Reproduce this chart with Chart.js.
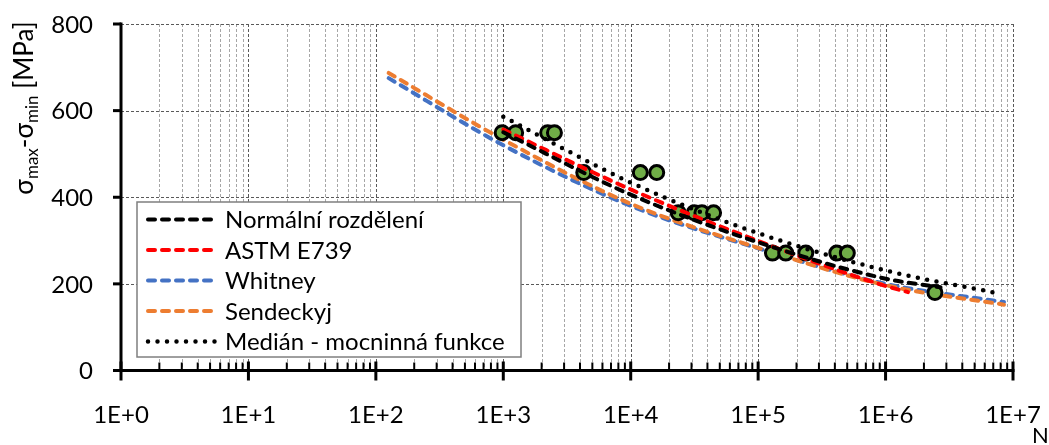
<!DOCTYPE html>
<html><head><meta charset="utf-8">
<script src="https://cdn.jsdelivr.net/npm/chart.js@4.4.1/dist/chart.umd.min.js"></script>
<style>html,body{margin:0;padding:0;background:#fff;}canvas{display:block;}</style>
</head><body>
<canvas id="c" width="1049" height="445"></canvas>
<script>
// ---- data ----
const xTickValues = [1, 10, 100, 1e3, 1e4, 1e5, 1e6, 1e7];
const xMinorMultipliers = [2, 3, 4, 5, 6, 7, 8, 9];
const yTickValues = [0, 200, 400, 600, 800];
const xAxisTitle = 'N';

const testN = [980, 1250, 2230, 2520, 4280, 11900, 16000, 23600, 31500, 36200, 44700, 129500, 164700, 236600, 414000, 501000, 2440000];
const testS = [549, 549, 549, 549, 457, 457, 457, 364, 364, 364, 364, 271, 271, 271, 271, 271, 180];

const normalN = [1000, 10000, 100000, 1000000, 2700000];
const normalS = [550, 406, 296, 212, 192];
const astmN = [1000, 10000, 100000, 1000000, 1500000];
const astmS = [556, 418, 299, 195, 181];
const whitneyN = [126, 1000, 10000, 100000, 1000000, 8500000];
const whitneyS = [675, 520, 380, 282, 200, 158];
const sendeckyjN = [126, 1000, 10000, 100000, 1000000, 8500000];
const sendeckyjS = [687, 533, 385, 283, 197, 152];
const medianN = [1000, 10000, 100000, 1000000, 8000000];
const medianS = [586, 434, 317, 231, 177];

const legendLabels = ['Normální rozdělení', 'ASTM E739', 'Whitney', 'Sendeckyj', 'Medián - mocninná funkce'];

// ---- build ----
const FONT = 'Lato, "Open Sans", sans-serif';
const pts = (xs, ys) => xs.map((v, i) => ({x: v, y: ys[i]}));
const curve = (label, xs, ys, color, dash, width) => ({
  label, data: pts(xs, ys), showLine: true, borderColor: color, backgroundColor: color,
  borderWidth: width, borderDash: dash, borderCapStyle: 'round', pointRadius: 0,
  cubicInterpolationMode: 'monotone', fill: false
});

const datasets = [
  curve(legendLabels[4], medianN, medianS, '#000000', [0, 9.5], 4.5),
  curve(legendLabels[0], normalN, normalS, '#000000', [7, 7], 4),
  curve(legendLabels[1], astmN, astmS, '#FF0000', [7, 7], 4),
  {label: 'data', data: pts(testN, testS), showLine: false, pointRadius: 7, pointBorderWidth: 3,
   pointBackgroundColor: '#70AD47', pointBorderColor: '#000000'},
  curve(legendLabels[3], sendeckyjN, sendeckyjS, '#ED7D31', [7, 7], 4),
  curve(legendLabels[2], whitneyN, whitneyS, '#4472C4', [7, 7], 4)
];

function line(ctx, x1, y1, x2, y2) { ctx.beginPath(); ctx.moveTo(x1, y1); ctx.lineTo(x2, y2); ctx.stroke(); }
const noPad = s => { s.paddingTop = 0; s.paddingBottom = 0; s.paddingLeft = 0; s.paddingRight = 0; };

const decor = {
  id: 'decor',
  beforeDatasetsDraw(chart) {
    const {ctx, chartArea: a, scales: {x, y}} = chart;
    ctx.save();
    ctx.lineWidth = 1;
    ctx.setLineDash([3, 2]);
    ctx.strokeStyle = '#A6A6A6';
    for (let i = 0; i < xTickValues.length - 1; i++) {
      for (const m of xMinorMultipliers) {
        const px = Math.round(x.getPixelForValue(xTickValues[i] * m)) + 0.5;
        line(ctx, px, a.top, px, a.bottom);
      }
    }
    ctx.strokeStyle = '#595959';
    for (const v of xTickValues.slice(1)) {
      const px = Math.round(x.getPixelForValue(v)) + 0.5;
      line(ctx, px, a.top, px, a.bottom);
    }
    for (const v of yTickValues.slice(1)) {
      const py = Math.round(y.getPixelForValue(v)) + 0.5;
      line(ctx, a.left, py, a.right, py);
    }
    ctx.restore();
  },
  afterDraw(chart) {
    const {ctx, chartArea: a, scales: {x, y}} = chart;
    ctx.save();
    ctx.setLineDash([]);
    ctx.strokeStyle = '#000';
    ctx.lineWidth = 2;
    for (let i = 0; i < xTickValues.length - 1; i++) {
      for (const m of xMinorMultipliers) {
        const px = x.getPixelForValue(xTickValues[i] * m);
        line(ctx, px, a.bottom, px, a.bottom - 8);
      }
    }
    ctx.lineWidth = 3;
    for (const v of xTickValues) {
      const px = x.getPixelForValue(v);
      line(ctx, px, a.bottom - 9, px, a.bottom + 10);
    }
    for (const v of yTickValues) {
      const py = y.getPixelForValue(v);
      line(ctx, a.left - 8, py, a.left, py);
    }
    line(ctx, a.left, a.top - 1.5, a.left, a.bottom + 1.5);
    line(ctx, a.left - 1.5, a.bottom, a.right + 1.5, a.bottom);

    // y tick labels
    ctx.font = '24px ' + FONT;
    ctx.fillStyle = '#000';
    ctx.textAlign = 'right';
    ctx.textBaseline = 'middle';
    for (const v of yTickValues) {
      ctx.fillText(String(v), a.left - 28, y.getPixelForValue(v) + 1);
    }

    // legend
    const L = {x: 137, y: 202, w: 384, h: 155};
    ctx.fillStyle = '#fff';
    ctx.fillRect(L.x, L.y, L.w, L.h);
    ctx.lineWidth = 1.5;
    ctx.strokeStyle = '#7F7F7F';
    ctx.strokeRect(L.x, L.y, L.w, L.h);
    ctx.font = '24px ' + FONT;
    ctx.textBaseline = 'middle';
    ctx.textAlign = 'left';
    legendLabels.forEach((lab, i) => {
      const ds = chart.data.datasets.find(d => d.label === lab);
      const cy = L.y + 17.5 + i * 30.5;
      ctx.save();
      ctx.strokeStyle = ds.borderColor;
      ctx.lineWidth = ds.borderWidth;
      ctx.lineCap = 'round';
      ctx.setLineDash(ds.borderDash);
      line(ctx, 148, cy, 216, cy);
      ctx.restore();
      ctx.fillStyle = '#000';
      ctx.fillText(lab, 225, cy + 1);
    });

    // y axis title with subscripts
    const parts = [['σ', 26, 0], ['max', 17, 5], ['-σ', 26, 0], ['min', 17, 5], [' [MPa]', 26, 0]];
    ctx.save();
    ctx.translate(33, 108);
    ctx.rotate(-Math.PI / 2);
    ctx.textAlign = 'left';
    ctx.textBaseline = 'alphabetic';
    ctx.fillStyle = '#000';
    let total = 0;
    for (const p of parts) { ctx.font = p[1] + 'px ' + FONT; total += ctx.measureText(p[0]).width; }
    let xx = -total / 2;
    for (const p of parts) {
      ctx.font = p[1] + 'px ' + FONT;
      ctx.fillText(p[0], xx, p[2]);
      xx += ctx.measureText(p[0]).width;
    }
    ctx.restore();

    ctx.font = '22px ' + FONT;
    ctx.textAlign = 'left';
    ctx.textBaseline = 'alphabetic';
    ctx.fillStyle = '#000';
    ctx.fillText(xAxisTitle, 1032, 443);
    ctx.restore();
  }
};

new Chart(document.getElementById('c'), {
  type: 'scatter',
  data: {datasets},
  options: {
    responsive: false, animation: false, devicePixelRatio: 1,
    layout: {padding: {top: 24, right: 36, left: 0, bottom: 0}},
    plugins: {legend: {display: false}, tooltip: {enabled: false}},
    scales: {
      x: {
        type: 'logarithmic', min: 1, max: 1e7, position: 'bottom',
        grid: {display: false}, border: {display: false},
        afterBuildTicks: s => { s.ticks = xTickValues.map(v => ({value: v})); },
        afterFit: s => { s.height = 74.5; noPad(s); },
        ticks: {
          autoSkip: false, maxRotation: 0, padding: 22, color: '#000',
          font: {family: FONT, size: 24},
          callback: v => '1E+' + Math.round(Math.log10(v))
        }
      },
      y: {
        type: 'linear', min: 0, max: 800,
        grid: {display: false}, border: {display: false},
        afterBuildTicks: s => { s.ticks = yTickValues.map(v => ({value: v})); },
        afterFit: s => { s.width = 121; noPad(s); },
        ticks: {display: false}
      }
    }
  },
  plugins: [decor]
});
</script>
</body></html>
